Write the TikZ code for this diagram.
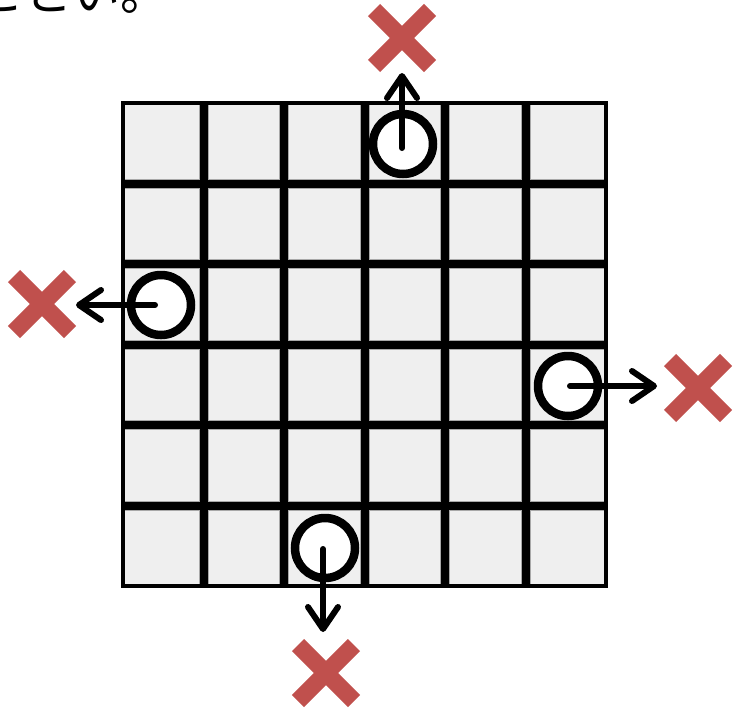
\documentclass[tikz,border=0pt]{standalone}
\usepackage{fontspec}
\newfontfamily\cjk{Noto Sans CJK JP}
\usetikzlibrary{arrows.meta,calc}
\definecolor{xred}{HTML}{C0504D}
\definecolor{cellgray}{HTML}{EFEFEF}
\definecolor{rimgray}{HTML}{A8A8A8}
\begin{document}
\begin{tikzpicture}[x=1pt,y=-1pt,
  stone/.style={circle,draw=black,line width=8.5pt,fill=white,minimum size=60pt,inner sep=0pt},
  moveline/.style={line width=6pt,line cap=round,line join=round,-{Straight Barb[length=22pt,width=30pt,line cap=round,line join=round]}},
  xbar/.style={xred,line width=17pt,line cap=butt},
  gridline/.style={black,line width=8pt},
  rimline/.style={rimgray,line width=10pt}]
\useasboundingbox (0,0) rectangle (733,710);
% clipped text at top left
\node[anchor=base west,inner sep=0pt,font=\cjk\fontsize{48}{48}\selectfont] (txt) at (-24,10) {ことい。};
% board
\fill[cellgray] (123,103) rectangle (606,586);
\foreach \i [evaluate=\i as \p using 123+80.5*\i] in {1,...,5} {
  \draw[rimline] (\p,103) -- (\p,586);
}
\foreach \i [evaluate=\i as \p using 103+80.5*\i] in {1,...,5} {
  \draw[rimline] (123,\p) -- (606,\p);
}
\foreach \i [evaluate=\i as \p using 123+80.5*\i] in {1,...,5} {
  \draw[gridline] (\p,103) -- (\p,586);
}
\foreach \i [evaluate=\i as \p using 103+80.5*\i] in {1,...,5} {
  \draw[gridline] (123,\p) -- (606,\p);
}
\draw[black,line width=4.5pt] (123,103) rectangle (606,586);
% stones
\node[stone] (ctop) at (403,144) {};
\node[stone] (cleft) at (161,305) {};
\node[stone] (cright) at (568,386) {};
\node[stone] (cbot) at (325,548) {};
% arrow tips
\coordinate (ttop) at (402,73);
\coordinate (tleft) at (76,305);
\coordinate (tright) at (657,386);
\coordinate (tbot) at (323,632);
\draw[moveline] (402,148) -- (ttop);
\draw[moveline] (155,305) -- (tleft);
\draw[moveline] (570,386) -- (tright);
\draw[moveline] (323,549) -- (tbot);
% crosses
\coordinate (xtop) at (402,38);
\coordinate (xleft) at (42,304);
\coordinate (xright) at (698,388);
\coordinate (xbot) at (326,673);
\foreach \c in {xtop,xleft,xright,xbot} {
  \draw[xbar] ($(\c)+(-28,-28)$) -- ($(\c)+(28,28)$);
  \draw[xbar] ($(\c)+(-28,28)$) -- ($(\c)+(28,-28)$);
}
\end{tikzpicture}
\end{document}
